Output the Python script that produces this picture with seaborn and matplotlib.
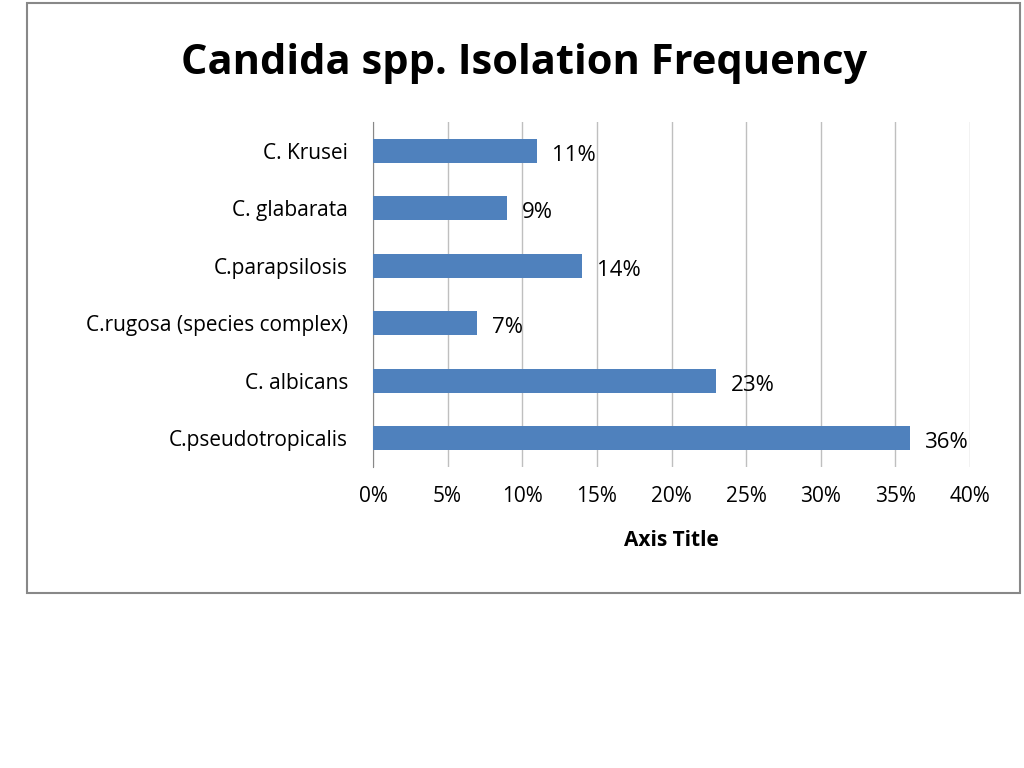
import matplotlib
matplotlib.use("Agg")
import matplotlib.pyplot as plt
import seaborn as sns
from matplotlib.patches import Rectangle
from matplotlib.ticker import MultipleLocator, PercentFormatter

species = ["C. Krusei", "C. glabarata", "C.parapsilosis",
           "C.rugosa (species complex)", "C. albicans", "C.pseudotropicalis"]
freq = [11, 9, 14, 7, 23, 36]

plt.rcParams["font.family"] = "Open Sans"

fig = plt.figure(figsize=(10.24, 7.68), dpi=100)
ax = fig.add_axes([373 / 1024, 1 - 467 / 768, 597 / 1024, 345 / 768])

sns.barplot(x=freq, y=species, orient="h", color="#4F81BD", saturation=1,
            width=0.42, ax=ax, zorder=3)

ax.set_xlim(0, 40)
ax.xaxis.set_major_locator(MultipleLocator(5))
ax.xaxis.set_major_formatter(PercentFormatter(decimals=0))
ax.grid(True, axis="x", color="#BFBFBF", linewidth=1, zorder=0)
ax.set_axisbelow(True)
for s in ["top", "right", "bottom"]:
    ax.spines[s].set_visible(False)
ax.spines["left"].set_color("#888888")
ax.tick_params(axis="both", length=0, labelsize=15)
ax.tick_params(axis="x", pad=14)
ax.tick_params(axis="y", pad=18)
ax.set_xlabel("Axis Title", fontsize=15, fontweight="bold", labelpad=16)
ax.set_ylabel("")

for i, v in enumerate(freq):
    ax.text(v + 1.0, i + 0.08, f"{v}%", va="center", ha="left", fontsize=16)

fig.text(0.512, 1 - 64 / 768, "Candida spp. Isolation Frequency",
         ha="center", va="center", fontsize=30, fontweight="bold")

fig.patches.append(Rectangle((27 / 1024, 1 - 593 / 768), 993 / 1024, 590 / 768,
                             transform=fig.transFigure, fill=False,
                             edgecolor="#888888", linewidth=1.5))

fig.savefig("out.png", dpi=100)
